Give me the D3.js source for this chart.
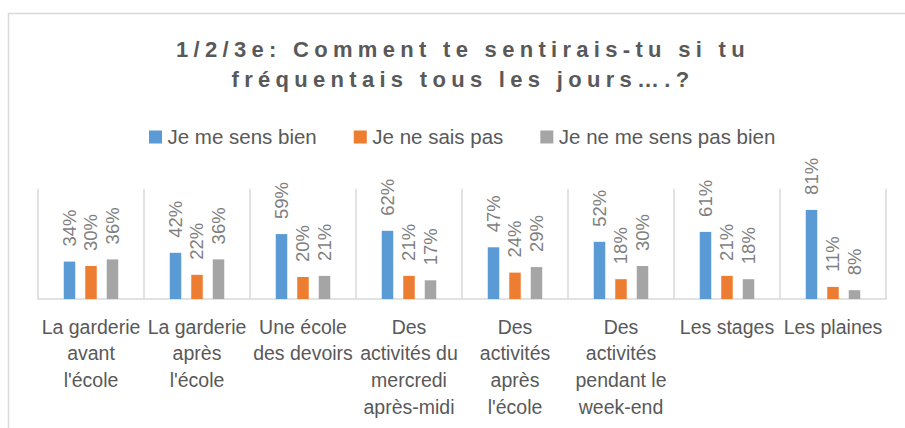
<!DOCTYPE html>
<html>
<head>
<meta charset="utf-8">
<script src="https://cdnjs.cloudflare.com/ajax/libs/d3/7.8.5/d3.min.js"></script>
<style>
  body { margin: 0; background: #fff; }
  svg { display: block; font-family: "Liberation Sans", Arial, sans-serif; }
</style>
</head>
<body>
<svg class="chart" width="905" height="428"></svg>
<script>
// donnees du graphique
const titleLines = ["1/2/3e: Comment te sentirais-tu si tu", "fréquentais tous les jours….?"];
const categories = [
    "La garderie\navant\nl'école",
    "La garderie\naprès\nl'école",
    "Une école\ndes devoirs",
    "Des\nactivités du\nmercredi\naprès-midi",
    "Des\nactivités\naprès\nl'école",
    "Des\nactivités\npendant le\nweek-end",
    "Les stages",
    "Les plaines"
];
const seriesNames = ["Je me sens bien", "Je ne sais pas", "Je ne me sens pas bien"];
const bien    = [34, 42, 59, 62, 47, 52, 61, 81];
const saisPas = [30, 22, 20, 21, 24, 18, 21, 11];
const pasBien = [36, 36, 21, 17, 29, 30, 18, 8];
const colors = ["#5b9bd5", "#ed7d31", "#a5a5a5"];

const svg = d3.select('.chart');
const plot = { left: 38, right: 886, top: 189, bottom: 299 };
const scales = {};

const values = [bien, saisPas, pasBien];
const dataz = categories.map((c, i) => ({
    nombre: c,
    valores: seriesNames.map((s, j) => ({ serie: s, valor: values[j][i] }))
}));

// cadre du graphique
svg.append('rect')
    .attr('x', 8.5).attr('y', 13.5)
    .attr('width', 920).attr('height', 440)
    .attr('fill', 'none')
    .attr('stroke', '#d9d9d9')
    .attr('stroke-width', 1.5);

// titre
svg.append('g').selectAll('text')
    .data(titleLines)
    .join('text')
    .attr('x', 463)
    .attr('y', (d, i) => 57 + i * 30)
    .attr('text-anchor', 'middle')
    .attr('font-size', 22)
    .attr('font-weight', 'bold')
    .attr('letter-spacing', 5.3)
    .attr('fill', '#595959')
    .text(d => d);

function setupScales() {
    const x0 = d3.scaleBand()
        .domain(categories)
        .range([plot.left, plot.right])
        .padding(0);
    const x1 = d3.scaleBand()
        .domain(seriesNames)
        .range([0, 54.5])
        .paddingInner(0.465)
        .paddingOuter(0);
    const y = d3.scaleLinear()
        .domain([0, 100])
        .range([plot.bottom, plot.top]);
    scales.count = { x0: x0, x1: x1, y: y };
}

function drawGrid() {
    const x0 = scales.count.x0;
    const bounds = categories.map(c => x0(c)).concat([plot.right]);
    svg.append('g').attr('class', 'grid')
        .selectAll('line')
        .data(bounds)
        .join('line')
        .attr('x1', d => d).attr('x2', d => d)
        .attr('y1', plot.top).attr('y2', plot.bottom)
        .attr('stroke', '#d9d9d9')
        .attr('stroke-width', 1.5);

    svg.append('line')
        .attr('x1', plot.left - 0.75).attr('x2', plot.right + 0.75)
        .attr('y1', plot.bottom).attr('y2', plot.bottom)
        .attr('stroke', '#d9d9d9')
        .attr('stroke-width', 1.5);
}

function drawBars() {
    const { x0, x1, y } = scales.count;
    const offset = (x0.bandwidth() - 54.5) / 2;

    const groups = svg.append('g').attr('class', 'bars')
        .selectAll('g')
        .data(dataz)
        .join('g')
        .attr('transform', d => 'translate(' + (x0(d.nombre) + offset) + ',0)');

    groups.selectAll('rect')
        .data(d => d.valores)
        .join('rect')
        .attr('x', d => x1(d.serie))
        .attr('y', d => y(d.valor))
        .attr('width', x1.bandwidth())
        .attr('height', d => y(0) - y(d.valor))
        .attr('fill', (d, i) => colors[i]);

    // etiquetas giradas
    groups.selectAll('text')
        .data(d => d.valores)
        .join('text')
        .attr('transform', d => 'translate(' + (x1(d.serie) + x1.bandwidth() / 2) + ',' + (y(d.valor) - 15) + ') rotate(-90)')
        .attr('dy', '0.35em')
        .attr('font-size', 18.5)
        .attr('fill', '#7f7f7f')
        .text(d => d.valor + '%');
}

function drawAxisX() {
    const x0 = scales.count.x0;
    const axisX = d3.axisBottom(x0).tickSize(0).tickPadding(0);
    const g = svg.append('g')
        .attr('class', 'axis axis-x')
        .attr('transform', 'translate(0,' + plot.bottom + ')')
        .call(axisX);
    g.select('.domain').remove();
    g.selectAll('.tick text').each(function(d) {
        const t = d3.select(this);
        t.text(null)
            .attr('y', 0)
            .attr('dy', null)
            .attr('font-size', 19.5)
            .attr('font-family', '"Liberation Sans", Arial, sans-serif')
            .attr('fill', '#595959');
        d.split('\n').forEach((line, i) => {
            t.append('tspan')
                .attr('x', 0)
                .attr('y', 34.5 + i * 26.8)
                .text(line);
        });
    });
}

function drawLegend() {
    const legend = svg.append('g').attr('class', 'legend');
    let xPos = 149;
    seriesNames.forEach((s, i) => {
        legend.append('rect')
            .attr('x', xPos).attr('y', 130.5)
            .attr('width', 13).attr('height', 13)
            .attr('fill', colors[i]);
        const txt = legend.append('text')
            .attr('x', xPos + 18.5)
            .attr('y', 143.5)
            .attr('font-size', 20.5)
            .attr('fill', '#595959')
            .text(s);
        xPos = xPos + 18.5 + txt.node().getComputedTextLength() + 37;
    });
}

setupScales();
drawGrid();
drawBars();
drawAxisX();
drawLegend();
</script>
</body>
</html>
